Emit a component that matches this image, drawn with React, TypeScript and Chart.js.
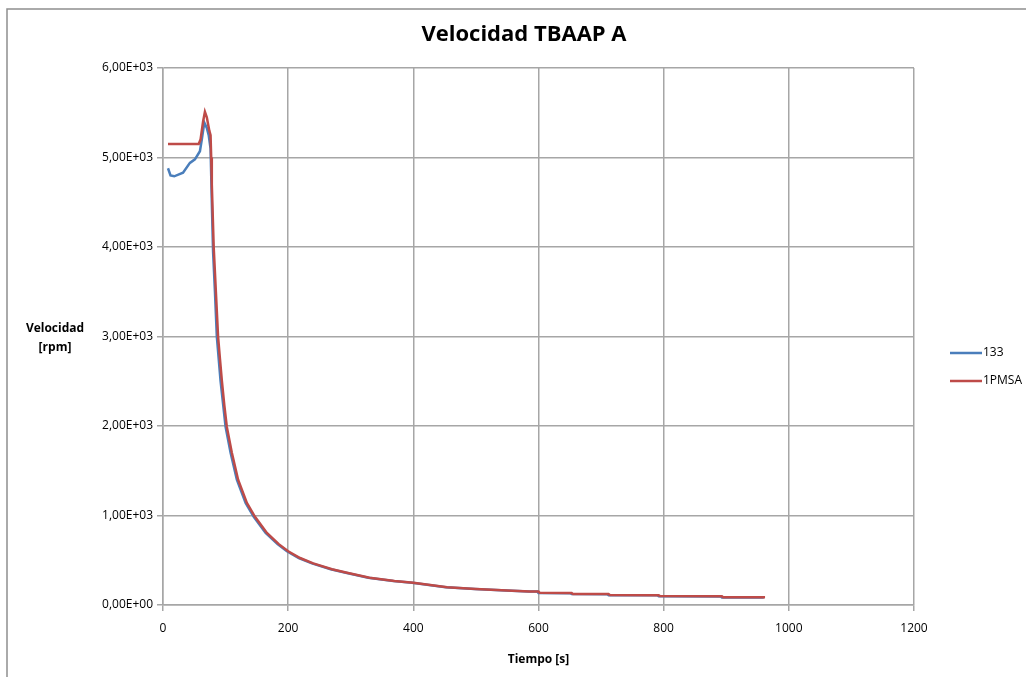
import React, { useEffect, useRef } from "react";
import { Chart, registerables } from "chart.js";

Chart.register(...registerables);

// Tiempo [s] / Velocidad [rpm]
const tiempo133 = [8, 12, 18, 32, 43, 51, 59, 62, 66, 70, 73, 76, 78, 80, 83, 86, 92, 100, 108, 118, 132, 145, 164, 183, 198, 217, 238, 268, 292, 328, 368, 398, 452, 498, 548, 584, 598, 600, 651, 653, 710, 712, 790, 792, 891, 893, 960];
const velocidad133 = [4880, 4800, 4790, 4830, 4940, 4980, 5070, 5200, 5390, 5330, 5250, 5100, 4500, 3950, 3500, 3000, 2500, 1990, 1700, 1400, 1140, 985, 805, 680, 600, 525, 465, 400, 360, 305, 268, 248, 198, 178, 162, 152, 150, 134, 132, 122, 120, 110, 108, 98, 96, 84, 84];

const tiempoPMSA = [8, 57, 60, 64, 67, 70, 74, 76, 77, 78, 81, 84.5, 88, 91, 94, 98, 102, 110, 120, 134, 147, 166, 185, 200, 219, 240, 270, 294, 330, 370, 400, 454, 500, 550, 586, 600, 602, 653, 655, 712, 714, 792, 794, 893, 895, 962];
const velocidadPMSA = [5150, 5150, 5200, 5400, 5510, 5450, 5300, 5250, 5000, 4700, 4000, 3500, 3000, 2750, 2510, 2230, 1990, 1700, 1400, 1140, 985, 805, 680, 600, 525, 465, 400, 360, 305, 268, 248, 198, 178, 162, 152, 150, 136, 134, 124, 122, 112, 110, 100, 98, 86, 86];

const seriesNames = ["133", "1PMSA"];
const seriesColors = ["#4a7ebb", "#be4b48"];

const chartTitle = "Velocidad TBAAP A";
const xTitle = "Tiempo [s]";
const yTitleLines = ["Velocidad", "[rpm]"];

const xMax = 1200;
const xStep = 200;
const yMax = 6000;
const yStep = 1000;

const FONT = "'Open Sans', sans-serif";

function sciLabel(v: number): string {
  if (v === 0) return "0,00E+00";
  const e = Math.floor(Math.log10(Math.abs(v)));
  const m = v / Math.pow(10, e);
  const sign = e < 0 ? "-" : "+";
  return m.toFixed(2).replace(".", ",") + "E" + sign + String(Math.abs(e)).padStart(2, "0");
}

const decorPlugin = {
  id: "decor",
  beforeDraw(chart: any) {
    const { ctx, width, height } = chart;
    ctx.save();
    ctx.fillStyle = "#ffffff";
    ctx.fillRect(0, 0, width, height);
    ctx.strokeStyle = "#8f8f8f";
    ctx.lineWidth = 1.5;
    ctx.beginPath();
    ctx.moveTo(7, height);
    ctx.lineTo(7, 9);
    ctx.lineTo(width, 9);
    ctx.stroke();
    ctx.restore();
  },
  afterDraw(chart: any) {
    const { ctx } = chart;
    ctx.save();
    // chart title
    ctx.fillStyle = "#000000";
    ctx.font = `bold 22px ${FONT}`;
    ctx.textAlign = "center";
    ctx.textBaseline = "middle";
    ctx.fillText(chartTitle, 524, 35);
    // y axis title, horizontal
    ctx.font = `bold 12px ${FONT}`;
    ctx.fillText(yTitleLines[0], 55, 329);
    ctx.fillText(yTitleLines[1], 55, 348);
    // legend
    ctx.font = `12px ${FONT}`;
    ctx.textAlign = "left";
    seriesNames.forEach((name, i) => {
      const y = 353 + i * 28;
      ctx.strokeStyle = seriesColors[i];
      ctx.lineWidth = 2.5;
      ctx.beginPath();
      ctx.moveTo(950, y);
      ctx.lineTo(982, y);
      ctx.stroke();
      ctx.fillStyle = "#000000";
      ctx.fillText(name, 983, y);
    });
    ctx.restore();
  },
};

export default function App() {
  const canvasRef = useRef<HTMLCanvasElement | null>(null);

  useEffect(() => {
    if (!canvasRef.current) return;
    const chart = new Chart(canvasRef.current, {
      type: "line",
      data: {
        datasets: [
          {
            label: seriesNames[0],
            data: tiempo133.map((t, i) => ({ x: t, y: velocidad133[i] })),
            borderColor: seriesColors[0],
            borderWidth: 2.5,
            pointRadius: 0,
            tension: 0,
            order: 1,
          },
          {
            label: seriesNames[1],
            data: tiempoPMSA.map((t, i) => ({ x: t, y: velocidadPMSA[i] })),
            borderColor: seriesColors[1],
            borderWidth: 2.5,
            pointRadius: 0,
            tension: 0,
            order: 0,
          },
        ],
      },
      options: {
        responsive: false,
        animation: false,
        layout: { padding: { left: 0, right: 112, top: 68, bottom: 0 } },
        plugins: {
          legend: { display: false },
          tooltip: { enabled: false },
          title: { display: false },
        },
        scales: {
          x: {
            type: "linear",
            min: 0,
            max: xMax,
            ticks: {
              stepSize: xStep,
              color: "#000000",
              font: { family: FONT, size: 12 },
              padding: 10,
              maxRotation: 0,
              callback: (v: any) => String(v),
            },
            grid: { color: "#a6a6a6", lineWidth: 1.5, tickLength: 6 },
            border: { color: "#a6a6a6", width: 1.5 },
            title: {
              display: true,
              text: xTitle,
              color: "#000000",
              font: { family: FONT, size: 12, weight: "bold" },
              padding: { top: 12, bottom: 10 },
            },
            afterFit(scale: any) {
              scale.height = 72;
            },
          },
          y: {
            type: "linear",
            min: 0,
            max: yMax,
            ticks: {
              stepSize: yStep,
              color: "#000000",
              font: { family: FONT, size: 12 },
              padding: 4,
              callback: (v: any) => sciLabel(Number(v)),
            },
            grid: { color: "#a6a6a6", lineWidth: 1.5, tickLength: 6 },
            border: { color: "#a6a6a6", width: 1.5 },
            afterFit(scale: any) {
              scale.width = 163;
            },
          },
        },
      },
      plugins: [decorPlugin],
    });
    return () => chart.destroy();
  }, []);

  return (
    <div style={{ position: "fixed", left: 0, top: 0, width: 1026, height: 677 }}>
      <canvas ref={canvasRef} width={1026} height={677} />
    </div>
  );
}
